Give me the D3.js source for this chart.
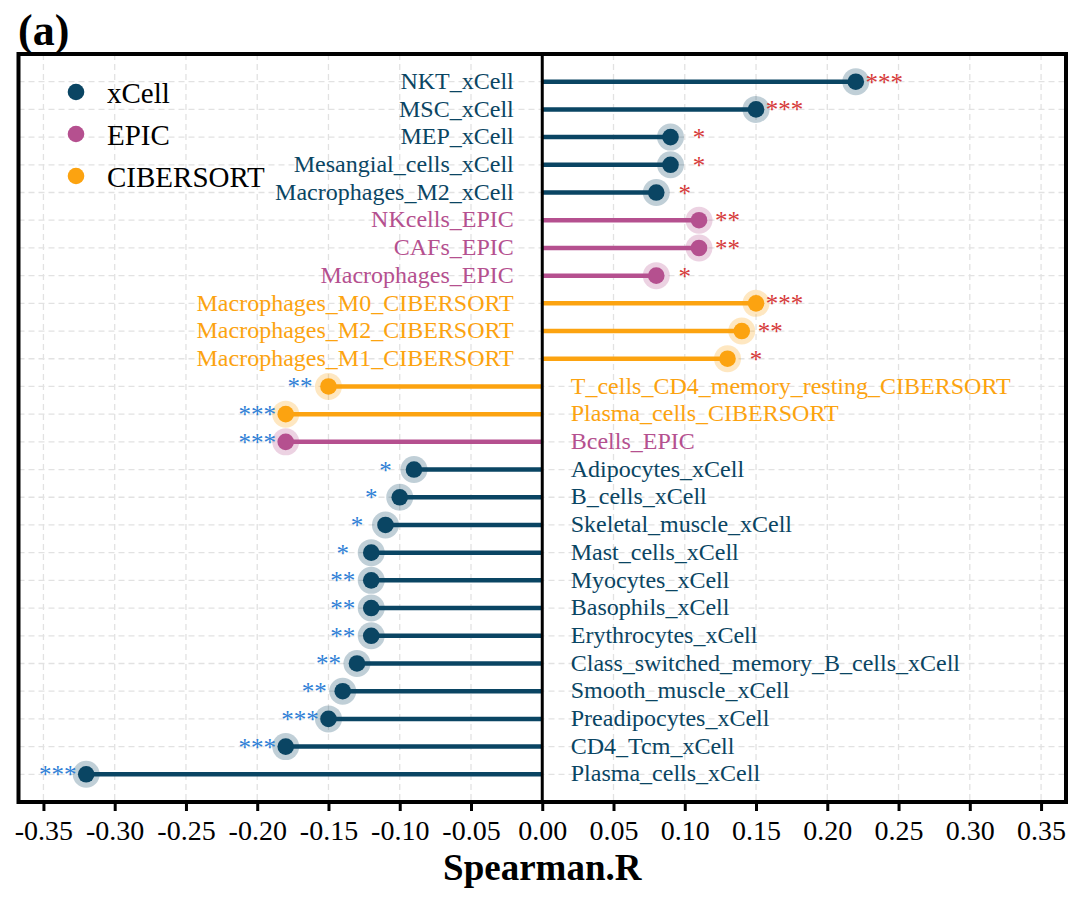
<!DOCTYPE html>
<html>
<head>
<meta charset="utf-8">
<script src="https://d3js.org/d3.v7.min.js"></script>
<style>
  body { margin: 0; background: #fff; }
  svg text { font-family: "Liberation Serif", "Times New Roman", serif; }
</style>
</head>
<body>
<svg id="chart" width="1080" height="900"></svg>
<script>
// data, top row first
const cells = [
    "NKT_xCell", "MSC_xCell", "MEP_xCell", "Mesangial_cells_xCell", "Macrophages_M2_xCell",
    "NKcells_EPIC", "CAFs_EPIC", "Macrophages_EPIC",
    "Macrophages_M0_CIBERSORT", "Macrophages_M2_CIBERSORT", "Macrophages_M1_CIBERSORT",
    "T_cells_CD4_memory_resting_CIBERSORT", "Plasma_cells_CIBERSORT", "Bcells_EPIC",
    "Adipocytes_xCell", "B_cells_xCell", "Skeletal_muscle_xCell", "Mast_cells_xCell",
    "Myocytes_xCell", "Basophils_xCell", "Erythrocytes_xCell",
    "Class_switched_memory_B_cells_xCell", "Smooth_muscle_xCell", "Preadipocytes_xCell",
    "CD4_Tcm_xCell", "Plasma_cells_xCell"
];
const rValues = [
    0.22, 0.15, 0.09, 0.09, 0.08,
    0.11, 0.11, 0.08,
    0.15, 0.14, 0.13,
    -0.15, -0.18, -0.18,
    -0.09, -0.10, -0.11, -0.12,
    -0.12, -0.12, -0.12,
    -0.13, -0.14, -0.15,
    -0.18, -0.32
];
const methods = [
    "xCell", "xCell", "xCell", "xCell", "xCell",
    "EPIC", "EPIC", "EPIC",
    "CIBERSORT", "CIBERSORT", "CIBERSORT",
    "CIBERSORT", "CIBERSORT", "EPIC",
    "xCell", "xCell", "xCell", "xCell",
    "xCell", "xCell", "xCell",
    "xCell", "xCell", "xCell",
    "xCell", "xCell"
];
const stars = [
    "***", "***", "*", "*", "*",
    "**", "**", "*",
    "***", "**", "*",
    "**", "***", "***",
    "*", "*", "*", "*",
    "**", "**", "**",
    "**", "**", "***",
    "***", "***"
];
const seriesNames = ["xCell", "EPIC", "CIBERSORT"];
const seriesColors = ["#0a4563", "#b5508f", "#fca310"];
const xTicks = [-0.35, -0.30, -0.25, -0.20, -0.15, -0.10, -0.05, 0.00, 0.05, 0.10, 0.15, 0.20, 0.25, 0.30, 0.35];

const data = cells.map((c, i) => ({ cell: c, r: rValues[i], method: methods[i], sig: stars[i] }));
const color = d3.scaleOrdinal().domain(seriesNames).range(seriesColors);

const svg = d3.select("#chart");
const plotL = 18.5, plotR = 1066, plotT = 54, plotB = 802;

const x = d3.scaleLinear().domain([-0.3675, 0.3675]).range([plotL, plotR]);
const y = d3.scalePoint().domain(cells).range([plotT, plotB]).padding(1);

// grid
const grid = svg.append("g");
grid.selectAll(".vg").data(xTicks).enter().append("line")
    .attr("x1", d => x(d)).attr("x2", d => x(d))
    .attr("y1", plotT).attr("y2", plotB)
    .attr("stroke", "#e2e2e2").attr("stroke-width", 1.3).attr("stroke-dasharray", "6,4");
grid.selectAll(".hg").data(cells).enter().append("line")
    .attr("x1", plotL).attr("x2", plotR)
    .attr("y1", d => y(d)).attr("y2", d => y(d))
    .attr("stroke", "#e2e2e2").attr("stroke-width", 1.3).attr("stroke-dasharray", "6,4");

// stems
svg.selectAll(".stem").data(data).enter().append("line")
    .attr("x1", x(0)).attr("x2", d => x(d.r))
    .attr("y1", d => y(d.cell)).attr("y2", d => y(d.cell))
    .attr("stroke", d => color(d.method))
    .attr("stroke-width", 4.5);

// halo + dot
svg.selectAll(".halo").data(data).enter().append("circle")
    .attr("cx", d => x(d.r)).attr("cy", d => y(d.cell))
    .attr("r", 13.5)
    .attr("fill", d => color(d.method))
    .attr("fill-opacity", 0.26);
svg.selectAll(".dot").data(data).enter().append("circle")
    .attr("cx", d => x(d.r)).attr("cy", d => y(d.cell))
    .attr("r", 8.3)
    .attr("fill", d => color(d.method));

// cell names on the other side of zero
svg.selectAll(".lab").data(data).enter().append("text")
    .attr("x", d => d.r > 0 ? x(-0.02) : x(0.02))
    .attr("y", d => y(d.cell))
    .attr("dy", "0.3em")
    .attr("text-anchor", d => d.r > 0 ? "end" : "start")
    .attr("fill", d => color(d.method))
    .style("font-size", "24px")
    .text(d => d.cell);

// significance stars
svg.selectAll(".sig").data(data).enter().append("text")
    .attr("x", d => d.r > 0 ? x(d.r + 0.02) : x(d.r - 0.02))
    .attr("y", d => y(d.cell))
    .attr("dy", "0.36em")
    .attr("text-anchor", "middle")
    .attr("fill", d => d.r > 0 ? "#d63a3a" : "#2f7fd6")
    .style("font-size", "25px")
    .text(d => d.sig);

// zero line
svg.append("line")
    .attr("x1", x(0)).attr("x2", x(0))
    .attr("y1", plotT).attr("y2", plotB)
    .attr("stroke", "#000").attr("stroke-width", 3);

// frame
svg.append("rect")
    .attr("x", plotL).attr("y", plotT)
    .attr("width", plotR - plotL).attr("height", plotB - plotT)
    .attr("fill", "none").attr("stroke", "#000").attr("stroke-width", 4);

// x axis
const xAxis = svg.append("g")
    .attr("transform", `translate(0,${plotB})`)
    .call(d3.axisBottom(x).tickValues(xTicks).tickSize(9));
xAxis.select(".domain").remove();
xAxis.selectAll(".tick line").attr("stroke", "#000").attr("stroke-width", 3);
xAxis.selectAll(".tick text")
    .attr("y", 38).attr("dy", 0)
    .attr("fill", "#000")
    .style("font-size", "28px")
    .style("font-family", "'Liberation Serif', 'Times New Roman', serif")
    .text(d => d3.format(".2f")(d).replace("−", "-"));

svg.append("text")
    .attr("x", x(0))
    .attr("y", 880)
    .attr("text-anchor", "middle")
    .style("font-size", "37px")
    .style("font-weight", "bold")
    .text("Spearman.R");

// legend
const legend = svg.append("g").attr("transform", "translate(76,92)");
seriesNames.forEach((s, i) => {
    legend.append("circle")
        .attr("cx", 0).attr("cy", i * 42)
        .attr("r", 8.3)
        .attr("fill", color(s));
    legend.append("text")
        .attr("x", 31).attr("y", i * 42 + 10.5)
        .style("font-size", "29px")
        .text(s);
});

// panel tag
svg.append("text")
    .attr("x", 18).attr("y", 45)
    .style("font-size", "44px")
    .style("font-weight", "bold")
    .text("(a)");
</script>
</body>
</html>
